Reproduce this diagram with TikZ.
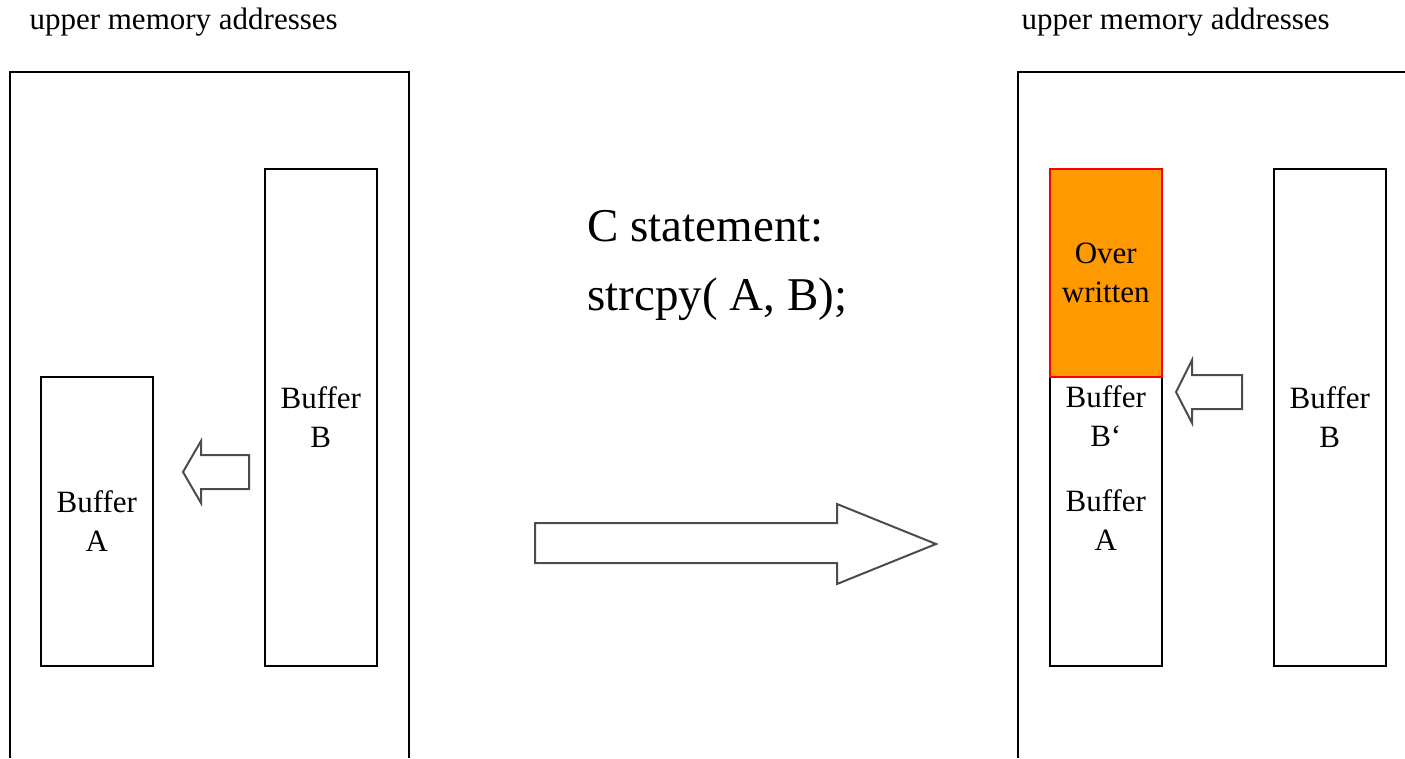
\documentclass[tikz,border=0pt]{standalone}
\usepackage{fontspec}
\setmainfont{Liberation Serif}

\tikzset{
  frame/.style={draw, line width=1.6pt},
  membox/.style={draw, line width=1.6pt, inner sep=0pt, anchor=north west,
    minimum width=112pt},
  boxtext/.style={align=center, font=\fontsize{31}{39}\selectfont},
  blockarrow/.style={draw=black!70, line width=2pt, fill=white, line join=miter},
}

\begin{document}
\begin{tikzpicture}[x=1pt, y=-1pt]
  \useasboundingbox (0,0) rectangle (1405,758);

  % stack before the copy
  \node[boxtext, anchor=west] (upleft) at (26,22) {upper memory addresses};
  \draw[frame] (10,758) |- (409,72) -- (409,758);
  \node[membox, minimum height=289pt] (bufA) at (40,376) {};
  \node[membox, minimum height=497pt] (bufB) at (264,168) {};
  \node[boxtext] at (bufA.center) {Buffer\\A};
  \node[boxtext] at (bufB.center) {Buffer\\B};
  \draw[blockarrow] (249,455) -- (201,455) -- (201,441) -- (183,472)
    -- (201,503) -- (201,489) -- (249,489) -- cycle;

  % the statement
  \node[anchor=west, font=\fontsize{47}{50}\selectfont] (stmt) at (584,226) {C statement:};
  \node[anchor=west, font=\fontsize{47}{50}\selectfont] (call) at (584,299) {strcpy( A, B);};
  \draw[blockarrow] (535,523) -- (837,523) -- (837,504) -- (936,544)
    -- (837,584) -- (837,563) -- (535,563) -- cycle;

  % stack after the copy
  \node[boxtext, anchor=west] (upright) at (1018,22) {upper memory addresses};
  \draw[frame] (1018,758) |- (1405,72);
  \node[membox, minimum height=289pt] (bufAB) at (1049,376) {};
  \node[membox, minimum height=208pt, draw=red, fill={rgb,255:red,255;green,153;blue,0}]
    (over) at (1049,168) {};
  \node[membox, minimum height=497pt] (bufB2) at (1273,168) {};
  \node[boxtext] at (over.center) {Over\\written};
  \node[boxtext, anchor=north] at ([yshift=-6pt]bufAB.north) {Buffer\\B‘};
  \node[boxtext, anchor=north] at ([yshift=-110pt]bufAB.north) {Buffer\\A};
  \node[boxtext] at (bufB2.center) {Buffer\\B};
  \draw[blockarrow] (1242,375) -- (1192,375) -- (1192,360) -- (1176,392)
    -- (1192,423) -- (1192,409) -- (1242,409) -- cycle;
\end{tikzpicture}
\end{document}
